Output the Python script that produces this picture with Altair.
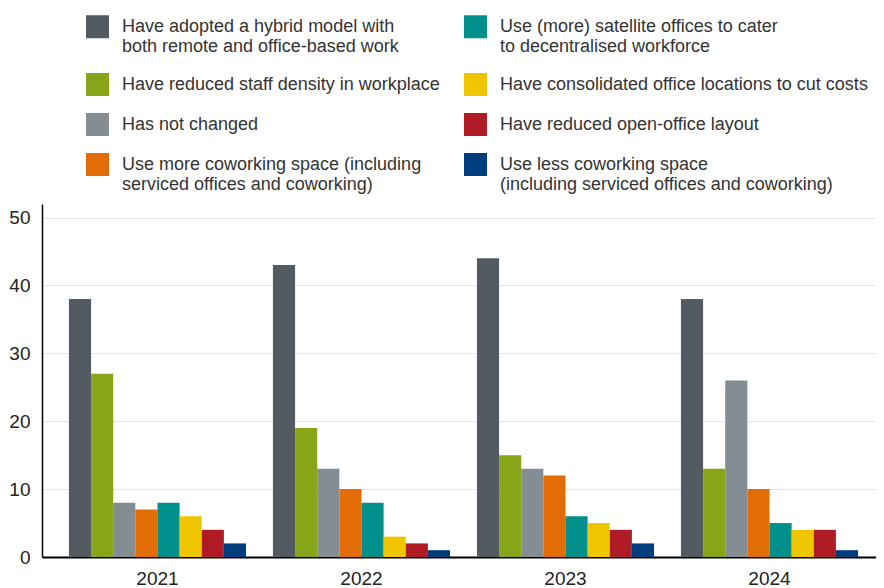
import altair as alt
import pandas as pd

years = ["2021", "2022", "2023", "2024"]

series = [
    "Have adopted a hybrid model with\nboth remote and office-based work",
    "Have reduced staff density in workplace",
    "Has not changed",
    "Use more coworking space (including\nserviced offices and coworking)",
    "Use (more) satellite offices to cater\nto decentralised workforce",
    "Have consolidated office locations to cut costs",
    "Have reduced open-office layout",
    "Use less coworking space\n(including serviced offices and coworking)",
]
colors = ["#535a61", "#88a51a", "#838d93", "#e26c05",
          "#008f8a", "#efc500", "#b01c26", "#003d7c"]

hybrid = [38, 43, 44, 38]
reduced_density = [27, 19, 15, 13]
not_changed = [8, 13, 13, 26]
more_coworking = [7, 10, 12, 10]
satellite = [8, 8, 6, 5]
consolidated = [6, 3, 5, 4]
open_office = [4, 2, 4, 4]
less_coworking = [2, 1, 2, 1]

values = [hybrid, reduced_density, not_changed, more_coworking,
          satellite, consolidated, open_office, less_coworking]

rows = []
for s, vals in zip(series, values):
    for y, v in zip(years, vals):
        rows.append({"year": y, "series": s, "value": v})
df = pd.DataFrame(rows)

chart = alt.Chart(df).mark_bar().encode(
    x=alt.X("year:N", sort=years,
            scale=alt.Scale(paddingInner=0.132, paddingOuter=0.11, align=0.6),
            axis=alt.Axis(title=None, labelAngle=0, ticks=False, grid=False,
                          domainColor="#000000", domainWidth=2,
                          labelFontSize=19, labelColor="#222222",
                          labelPadding=12, labelFont="Liberation Sans")),
    xOffset=alt.XOffset("series:N", sort=series,
                        scale=alt.Scale(paddingInner=0, paddingOuter=0)),
    y=alt.Y("value:Q", scale=alt.Scale(domain=[0, 52], nice=False),
            axis=alt.Axis(title=None, values=[0, 10, 20, 30, 40, 50],
                          ticks=False, grid=True, gridColor="#e4e4e4",
                          gridWidth=1, domainColor="#000000", domainWidth=1.5,
                          labelFontSize=19, labelColor="#222222",
                          labelPadding=12, labelFont="Liberation Sans")),
    color=alt.Color("series:N",
                    scale=alt.Scale(domain=series, range=colors),
                    legend=alt.Legend(title=None, orient="none",
                                      legendX=44, legendY=-189,
                                      columns=2, columnPadding=24,
                                      rowPadding=17,
                                      symbolType="square", symbolSize=529,
                                      symbolStrokeWidth=0,
                                      labelFontSize=18, labelColor="#333333",
                                      labelFont="Liberation Sans",
                                      labelOffset=13, labelLimit=500,
                                      labelExpr="split(datum.label, '\\n')")),
).properties(
    width=834, height=353,
    padding={"left": 0, "top": 7, "right": 0, "bottom": 0},
).configure_view(stroke=None)

chart.save("out.html", embed_options={"renderer": "svg", "actions": False})
